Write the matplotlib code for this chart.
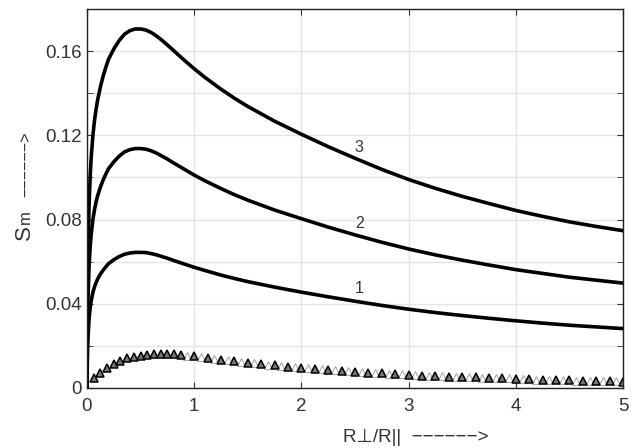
import numpy as np
import matplotlib.pyplot as plt
from matplotlib.ticker import MultipleLocator, FixedLocator, FixedFormatter

plt.rcParams['font.family'] = ['Liberation Sans', 'DejaVu Sans']

# curve samples
x_curva = [0, 0.005, 0.01, 0.02, 0.03, 0.04, 0.055, 0.07, 0.085, 0.1, 0.125, 0.15,
           0.175, 0.2, 0.25, 0.3, 0.35, 0.4, 0.45, 0.5, 0.55, 0.6, 0.65, 0.7, 0.75,
           0.8, 0.9, 1.0, 1.1, 1.25, 1.375, 1.5, 1.75, 2.0, 2.25, 2.5, 2.75, 3.0,
           3.25, 3.5, 3.75, 4.0, 4.25, 4.5, 4.75, 5.0]
curva_3 = [0, 0.050, 0.065, 0.088, 0.101, 0.110, 0.120, 0.127, 0.1325, 0.137, 0.143,
           0.148, 0.1522, 0.156, 0.161, 0.165, 0.168, 0.1697, 0.1705, 0.1705, 0.1700,
           0.1688, 0.1671, 0.1651, 0.1629, 0.1606, 0.156, 0.1516, 0.1475, 0.1419,
           0.1376, 0.1337, 0.1267, 0.1205, 0.1146, 0.1091, 0.1038, 0.099, 0.0948,
           0.091, 0.0876, 0.0843, 0.0815, 0.0789, 0.0767, 0.0747]
curva_2 = [0, 0.0334, 0.0434, 0.0587, 0.0674, 0.0734, 0.0800, 0.0847, 0.0884, 0.0914,
           0.0954, 0.0987, 0.1015, 0.1041, 0.1074, 0.1101, 0.1121, 0.1132, 0.1137,
           0.1137, 0.1134, 0.1126, 0.1115, 0.1101, 0.1087, 0.1071, 0.1041, 0.1011,
           0.0984, 0.0947, 0.0918, 0.0892, 0.0845, 0.0804, 0.0764, 0.0727, 0.0692,
           0.0660, 0.0632, 0.0607, 0.0584, 0.0562, 0.0544, 0.0526, 0.0512, 0.0498]
curva_1 = [0, 0.0189, 0.0246, 0.0333, 0.0382, 0.0416, 0.0454, 0.0480, 0.0501, 0.0518,
           0.0541, 0.0559, 0.0575, 0.0590, 0.0609, 0.0624, 0.0635, 0.0641, 0.0644,
           0.0644, 0.0643, 0.0638, 0.0632, 0.0624, 0.0616, 0.0607, 0.0590, 0.0573,
           0.0558, 0.0536, 0.0520, 0.0505, 0.0479, 0.0455, 0.0433, 0.0412, 0.0392,
           0.0374, 0.0358, 0.0344, 0.0331, 0.0319, 0.0308, 0.0298, 0.0290, 0.0282]

# triangle series
x_tri = np.linspace(0.0625, 5.0, 80)
y_tri = [0.0045, 0.0070, 0.0093, 0.0112, 0.0127, 0.0140, 0.0148, 0.0154, 0.0158, 0.0160,
         0.0161, 0.0161, 0.0160, 0.0157, 0.0153, 0.0150, 0.0146, 0.0143, 0.0139, 0.0135,
         0.0131, 0.0127, 0.0124, 0.0120, 0.0117, 0.0113, 0.0110, 0.0107, 0.0104, 0.0101,
         0.0098, 0.0095, 0.0093, 0.0090, 0.0088, 0.0086, 0.0083, 0.0081, 0.0079, 0.0077,
         0.0075, 0.0073, 0.0071, 0.0069, 0.0068, 0.0066, 0.0064, 0.0062,
         0.0061, 0.0059, 0.0058, 0.0057, 0.0055, 0.0054, 0.0053, 0.0052,
         0.0051, 0.0050, 0.0049, 0.0048, 0.0047, 0.0046, 0.0045, 0.0043,
         0.0042, 0.0041, 0.0040, 0.0039, 0.0038, 0.0037, 0.0036, 0.0036,
         0.0035, 0.0034, 0.0033, 0.0033, 0.0032, 0.0031, 0.0031, 0.0030]
y_tri = np.array(y_tri)
oscuros = np.array([i < 13 or i % 2 == 1 for i in range(80)])

etiquetas = ['1', '2', '3']
pos_etiquetas = [(2.54, 0.0472), (2.54, 0.0779), (2.54, 0.1141)]

fig = plt.figure(figsize=(6.43, 4.48), dpi=100)
ax = fig.add_axes([0.1353, 0.134, 0.8336, 0.846])

ax.plot(x_curva, curva_3, color='black', lw=2.6, solid_joinstyle='round')
ax.plot(x_curva, curva_2, color='black', lw=2.6, solid_joinstyle='round')
ax.plot(x_curva, curva_1, color='black', lw=2.6, solid_joinstyle='round')

ax.plot(x_tri[~oscuros], y_tri[~oscuros], '^', ms=5.5, mfc='white', mec='#aaaaaa', mew=0.8)
ax.plot(x_tri[oscuros], y_tri[oscuros], '^', ms=5.5, mfc='#777777', mec='black', mew=1.1)

for t, (xx, yy) in zip(etiquetas, pos_etiquetas):
    ax.text(xx, yy, t, fontsize=11.5, color='#333333', ha='center', va='center')

ax.set_xlim(0, 5)
ax.set_ylim(0, 0.18)
ax.xaxis.set_major_locator(MultipleLocator(1))
ax.yaxis.set_major_locator(FixedLocator([0, 0.04, 0.08, 0.12, 0.16]))
ax.yaxis.set_major_formatter(FixedFormatter(['0', '0.04', '0.08', '0.12', '0.16']))
ax.yaxis.set_minor_locator(MultipleLocator(0.02))
ax.tick_params(which='both', direction='in', top=True, right=True,
               labelsize=13.5, colors='#333333', length=4)
ax.tick_params(axis='x', pad=7)
ax.tick_params(axis='y', pad=3.5)
ax.grid(True, which='both', color='#e4e4e4', lw=1.0)
ax.set_axisbelow(True)
for s in ax.spines.values():
    s.set_color('#222222')
    s.set_linewidth(1.0)

# axis labels, built from pieces like the original
ax.text(0.4776, -0.1425, 'R⊥/R||  −−−−−−>', transform=ax.transAxes,
        fontsize=13.5, color='#333333', ha='left', va='baseline')
ax.text(-0.106, 0.3905, 'S', transform=ax.transAxes, rotation=90,
        rotation_mode='anchor', fontsize=16, color='#333333', ha='left', va='baseline')
ax.text(-0.106, 0.4327, 'm', transform=ax.transAxes, rotation=90,
        rotation_mode='anchor', fontsize=12, color='#333333', ha='left', va='baseline')
ax.text(-0.106, 0.504, '−−−−−−>', transform=ax.transAxes, rotation=90,
        rotation_mode='anchor', fontsize=11.5, color='#333333', ha='left', va='baseline')

fig.savefig('out.png', dpi=100)
